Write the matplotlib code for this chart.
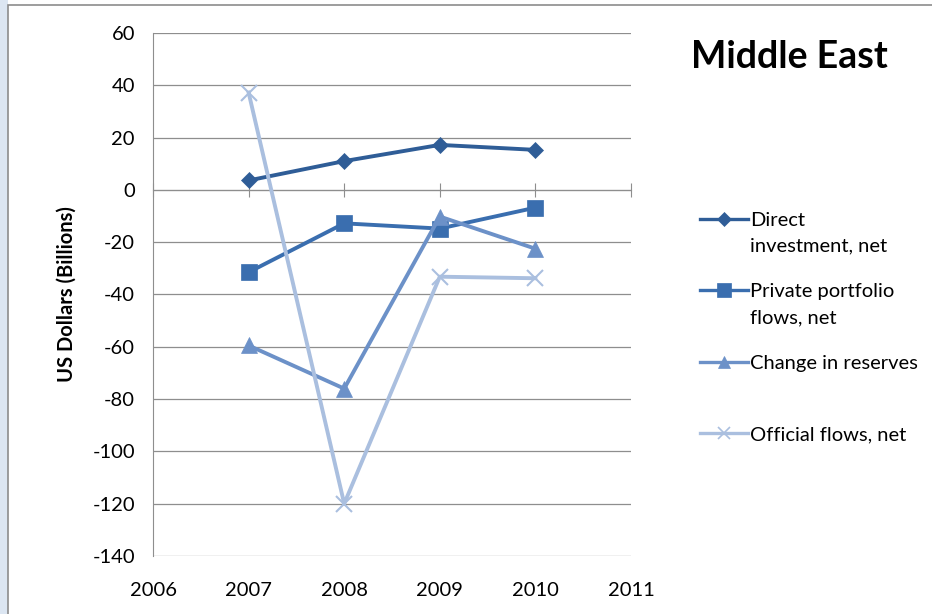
import matplotlib.pyplot as plt
from matplotlib.patches import Rectangle
from matplotlib.lines import Line2D

# values
years = [2007, 2008, 2009, 2010]
direct_inv = [3.6, 11.0, 17.2, 15.3]
private_port = [-31.5, -12.8, -14.8, -6.8]
reserves = [-59.5, -76.0, -10.2, -22.5]
official = [37.2, -120.0, -33.2, -33.8]

labels = ['Direct', 'Private portfolio', 'Change in reserves', 'Official flows, net']
label_cont = ['investment, net', 'flows, net', None, None]
colors = ['#2F5D97', '#3A6EAF', '#6C91C8', '#AABFDF']
markers = ['D', 's', '^', 'x']
msizes = [8.5, 12, 11, 11]

plt.rcParams['font.family'] = ['Lato', 'DejaVu Sans']
plt.rcParams['axes.unicode_minus'] = False

fig = plt.figure(figsize=(9.32, 6.14), dpi=100)

# light blue strip and grey frame like the slide it was cut from
fig.patches.append(Rectangle((0, 0), 0.009, 1, transform=fig.transFigure,
                             facecolor='#DCE6F2', edgecolor='none', zorder=0))
fig.patches.append(Rectangle((0.009, -0.01), 1.0, 1.002, transform=fig.transFigure,
                             facecolor='none', edgecolor='#8C8C8C', lw=1.2, zorder=1))

ax = fig.add_axes([0.1642, 0.0945, 0.5128, 0.8518])

series = [direct_inv, private_port, reserves, official]
for vals, c, m, ms in zip(series, colors, markers, msizes):
    ax.plot(years, vals, color=c, lw=2.8, marker=m, markersize=ms,
            markeredgewidth=1.5 if m == 'x' else 0.5, markeredgecolor=c, zorder=3)

ax.set_xlim(2006, 2011)
ax.set_ylim(-140, 60)
ax.set_yticks(range(-140, 61, 20))
ax.grid(axis='y', color='#8E8E8E', lw=0.9)
ax.set_axisbelow(True)

for s in ['top', 'right']:
    ax.spines[s].set_visible(False)
ax.spines['left'].set_color('#8E8E8E')
ax.spines['bottom'].set_position(('data', 0))
ax.spines['bottom'].set_color('#8E8E8E')
ax.tick_params(axis='y', length=0, labelsize=14.5, pad=13)
ax.tick_params(axis='x', direction='inout', length=10, color='#8E8E8E',
               labelbottom=False)

sec = ax.secondary_xaxis(location=0)
sec.set_xticks(range(2006, 2012))
sec.tick_params(length=0, labelsize=14.5, pad=19)
sec.spines['bottom'].set_visible(False)

ax.set_ylabel('US Dollars (Billions)', fontsize=14.5, fontweight='bold', labelpad=11)

fig.text(0.8475, 0.907, 'Middle East', fontsize=27, fontweight='bold', ha='center', va='center')

# legend: handle sits on the first line of each label
handles = [Line2D([], [], color=c, lw=2.4, marker=m, markersize=ms * 0.8,
                  markeredgewidth=1.2 if m == 'x' else 0.5, markeredgecolor=c)
           for c, m, ms in zip(colors, markers, msizes)]
leg = fig.legend(handles, labels, loc='upper left', bbox_to_anchor=(0.742, 0.668),
                 frameon=False, fontsize=14.5, handlelength=2.4, handletextpad=0.1,
                 labelspacing=2.7, borderaxespad=0)
fig.canvas.draw()
for txt, extra in zip(leg.get_texts(), label_cont):
    if extra:
        bb = txt.get_window_extent().transformed(fig.transFigure.inverted())
        fig.text(bb.x0, bb.y0 - 0.014, extra, fontsize=14.5, ha='left', va='top')

fig.savefig('out.png', dpi=100)
